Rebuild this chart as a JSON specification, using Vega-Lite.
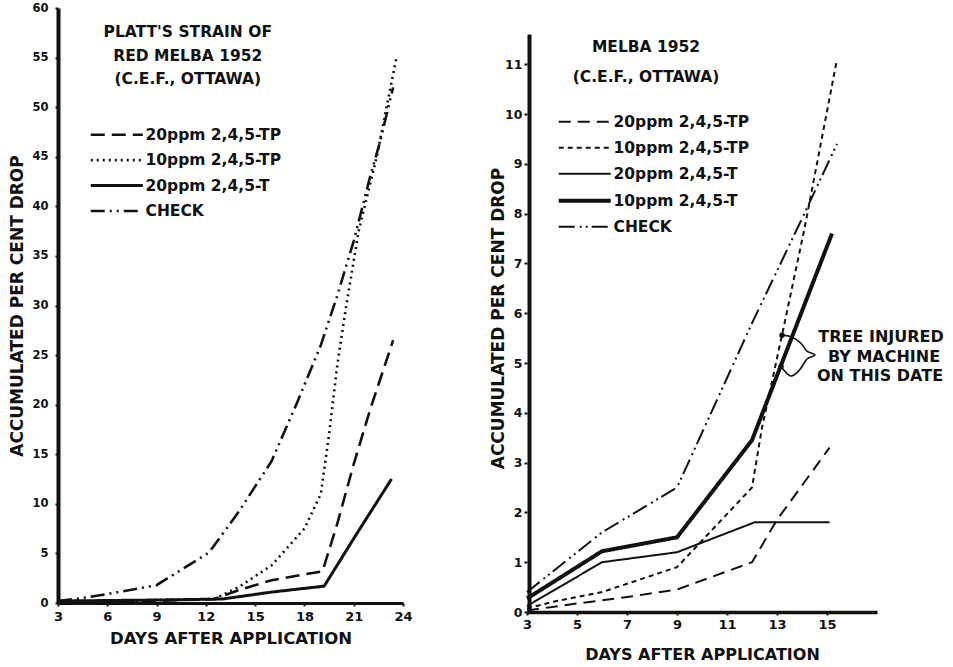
{
  "$schema": "https://vega.github.io/schema/vega-lite/v6.json",
  "background": "white",
  "padding": {"left": 8, "top": 2, "right": 0, "bottom": 0},
  "config": {
    "view": {"stroke": null},
    "font": "DejaVu Sans",
    "axis": {"domainColor": "#111", "tickColor": "#111", "labelColor": "#111", "titleColor": "#111", "labelFont": "DejaVu Sans", "labelFontWeight": "bold", "titleFont": "DejaVu Sans", "titleFontWeight": "bold", "titleFontSize": 16, "grid": false, "tickWidth": 2, "tickSize": 3, "labelFlush": false}
  },
  "datasets": {
    "left": [
      {"series": "CHECK", "day": 3, "pct": 0.2}, {"series": "CHECK", "day": 4.5, "pct": 0.5}, {"series": "CHECK", "day": 6, "pct": 0.9}, {"series": "CHECK", "day": 9, "pct": 1.8}, {"series": "CHECK", "day": 12.2, "pct": 5.1}, {"series": "CHECK", "day": 14, "pct": 9.2}, {"series": "CHECK", "day": 16, "pct": 14.3}, {"series": "CHECK", "day": 17.5, "pct": 20}, {"series": "CHECK", "day": 19, "pct": 26}, {"series": "CHECK", "day": 20, "pct": 31}, {"series": "CHECK", "day": 21, "pct": 36.5}, {"series": "CHECK", "day": 22, "pct": 43}, {"series": "CHECK", "day": 22.6, "pct": 46.5}, {"series": "CHECK", "day": 23.4, "pct": 52},
      {"series": "10ppm 2,4,5-TP", "day": 3, "pct": 0.2}, {"series": "10ppm 2,4,5-TP", "day": 6, "pct": 0.2}, {"series": "10ppm 2,4,5-TP", "day": 9, "pct": 0.3}, {"series": "10ppm 2,4,5-TP", "day": 12.5, "pct": 0.4}, {"series": "10ppm 2,4,5-TP", "day": 14, "pct": 1.6}, {"series": "10ppm 2,4,5-TP", "day": 16, "pct": 3.8}, {"series": "10ppm 2,4,5-TP", "day": 18, "pct": 7.5}, {"series": "10ppm 2,4,5-TP", "day": 19, "pct": 11}, {"series": "10ppm 2,4,5-TP", "day": 19.5, "pct": 17}, {"series": "10ppm 2,4,5-TP", "day": 20, "pct": 24}, {"series": "10ppm 2,4,5-TP", "day": 20.5, "pct": 29.5}, {"series": "10ppm 2,4,5-TP", "day": 21.3, "pct": 37.5}, {"series": "10ppm 2,4,5-TP", "day": 22.4, "pct": 45}, {"series": "10ppm 2,4,5-TP", "day": 23.6, "pct": 55},
      {"series": "20ppm 2,4,5-TP", "day": 3, "pct": 0.1}, {"series": "20ppm 2,4,5-TP", "day": 9, "pct": 0.2}, {"series": "20ppm 2,4,5-TP", "day": 12.5, "pct": 0.4}, {"series": "20ppm 2,4,5-TP", "day": 14, "pct": 1.3}, {"series": "20ppm 2,4,5-TP", "day": 16, "pct": 2.3}, {"series": "20ppm 2,4,5-TP", "day": 19.1, "pct": 3.2}, {"series": "20ppm 2,4,5-TP", "day": 20, "pct": 8}, {"series": "20ppm 2,4,5-TP", "day": 21, "pct": 14}, {"series": "20ppm 2,4,5-TP", "day": 22, "pct": 19.5}, {"series": "20ppm 2,4,5-TP", "day": 23.4, "pct": 26.5},
      {"series": "20ppm 2,4,5-T", "day": 3, "pct": 0.2}, {"series": "20ppm 2,4,5-T", "day": 9, "pct": 0.3}, {"series": "20ppm 2,4,5-T", "day": 13, "pct": 0.4}, {"series": "20ppm 2,4,5-T", "day": 16, "pct": 1.1}, {"series": "20ppm 2,4,5-T", "day": 19.2, "pct": 1.7}, {"series": "20ppm 2,4,5-T", "day": 21, "pct": 6.5}, {"series": "20ppm 2,4,5-T", "day": 23.3, "pct": 12.5}
    ],
    "leftText": [
      {"label": "PLATT'S STRAIN OF", "day": 10.9, "pct": 57.6},
      {"label": "RED MELBA 1952", "day": 10.9, "pct": 55.2},
      {"label": "(C.E.F., OTTAWA)", "day": 10.9, "pct": 52.8}
    ],
    "right": [
      {"series": "CHECK", "day": 3, "pct": 0.4}, {"series": "CHECK", "day": 6, "pct": 1.6}, {"series": "CHECK", "day": 9, "pct": 2.5}, {"series": "CHECK", "day": 12, "pct": 5.8}, {"series": "CHECK", "day": 14, "pct": 7.9}, {"series": "CHECK", "day": 15.4, "pct": 9.4},
      {"series": "10ppm 2,4,5-TP", "day": 3, "pct": 0.07}, {"series": "10ppm 2,4,5-TP", "day": 4, "pct": 0.2}, {"series": "10ppm 2,4,5-TP", "day": 6, "pct": 0.4}, {"series": "10ppm 2,4,5-TP", "day": 9, "pct": 0.9}, {"series": "10ppm 2,4,5-TP", "day": 12, "pct": 2.5}, {"series": "10ppm 2,4,5-TP", "day": 12.4, "pct": 3.7}, {"series": "10ppm 2,4,5-TP", "day": 13.2, "pct": 5.56}, {"series": "10ppm 2,4,5-TP", "day": 14.1, "pct": 7.7}, {"series": "10ppm 2,4,5-TP", "day": 15.4, "pct": 11.1},
      {"series": "20ppm 2,4,5-TP", "day": 3, "pct": 0.03}, {"series": "20ppm 2,4,5-TP", "day": 5, "pct": 0.17}, {"series": "20ppm 2,4,5-TP", "day": 7, "pct": 0.3}, {"series": "20ppm 2,4,5-TP", "day": 9, "pct": 0.45}, {"series": "20ppm 2,4,5-TP", "day": 12, "pct": 1.0}, {"series": "20ppm 2,4,5-TP", "day": 13, "pct": 1.85}, {"series": "20ppm 2,4,5-TP", "day": 15.1, "pct": 3.3},
      {"series": "20ppm 2,4,5-T", "day": 3, "pct": 0.12}, {"series": "20ppm 2,4,5-T", "day": 6, "pct": 1.0}, {"series": "20ppm 2,4,5-T", "day": 9, "pct": 1.2}, {"series": "20ppm 2,4,5-T", "day": 12.1, "pct": 1.8}, {"series": "20ppm 2,4,5-T", "day": 15.1, "pct": 1.8},
      {"series": "10ppm 2,4,5-T", "day": 3, "pct": 0.27}, {"series": "10ppm 2,4,5-T", "day": 6, "pct": 1.22}, {"series": "10ppm 2,4,5-T", "day": 9, "pct": 1.5}, {"series": "10ppm 2,4,5-T", "day": 12, "pct": 3.45}, {"series": "10ppm 2,4,5-T", "day": 15.2, "pct": 7.6}
    ],
    "rightText": [
      {"label": "MELBA 1952", "day": 7.76, "pct": 11.35, "size": "title"},
      {"label": "(C.E.F., OTTAWA)", "day": 7.76, "pct": 10.74, "size": "title"},
      {"label": "TREE INJURED", "day": 17.16, "pct": 5.52, "size": "note"},
      {"label": "BY MACHINE", "day": 17.28, "pct": 5.12, "size": "note"},
      {"label": "ON THIS DATE", "day": 17.12, "pct": 4.74, "size": "note"}
    ],
    "brace": [
      {"k": 1, "day": 13.2, "pct": 5.56}, {"k": 2, "day": 13.6, "pct": 5.52}, {"k": 3, "day": 13.95, "pct": 5.4}, {"k": 4, "day": 14.2, "pct": 5.24}, {"k": 5, "day": 14.52, "pct": 5.16},
      {"k": 6, "day": 14.2, "pct": 5.08}, {"k": 7, "day": 13.9, "pct": 4.86}, {"k": 8, "day": 13.55, "pct": 4.74}, {"k": 9, "day": 13.16, "pct": 4.93}
    ],
    "markers": [
      {"day": 13.2, "pct": 5.56},
      {"day": 13.16, "pct": 4.93}
    ]
  },
  "spacing": 76,
  "resolve": {
    "scale": {"strokeDash": "independent", "strokeWidth": "independent", "x": "independent", "y": "independent"},
    "legend": {"strokeDash": "independent", "strokeWidth": "independent"}
  },
  "hconcat": [
    {
      "width": 345,
      "height": 595,
      "layer": [
        {
          "data": {"name": "left"},
          "mark": {"type": "line", "color": "#111", "strokeCap": "butt"},
          "encoding": {
            "x": {"field": "day", "type": "quantitative", "scale": {"domain": [3, 24], "nice": false, "zero": false}, "axis": {"values": [3, 6, 9, 12, 15, 18, 21, 24], "title": "DAYS AFTER APPLICATION", "titleFontSize": 16.5, "domainWidth": 3, "labelFontSize": 13, "labelPadding": 4, "titlePadding": 7}},
            "y": {"field": "pct", "type": "quantitative", "scale": {"domain": [0, 60], "nice": false}, "axis": {"values": [0, 5, 10, 15, 20, 25, 30, 35, 40, 45, 50, 55, 60], "title": "ACCUMULATED PER CENT DROP", "titleFontSize": 17, "domainWidth": 4, "labelFontSize": 11.5, "labelPadding": 7, "titlePadding": 5}},
            "strokeDash": {"field": "series", "type": "nominal", "scale": {"domain": ["20ppm 2,4,5-TP", "10ppm 2,4,5-TP", "20ppm 2,4,5-T", "CHECK"], "range": [[14, 7], [2, 4], [1, 0], [14, 5, 2, 5, 2, 5]]}, "legend": {"orient": "none", "legendX": 51, "legendY": 119, "title": null, "symbolType": "M-5.2,0H5.2", "symbolSize": 100, "symbolStrokeColor": "#111", "labelFont": "DejaVu Sans", "labelFontWeight": "bold", "labelFontSize": 15.5, "labelColor": "#111", "labelOffset": 21, "rowPadding": 8.4}},
            "strokeWidth": {"field": "series", "type": "nominal", "scale": {"type": "ordinal", "domain": ["20ppm 2,4,5-TP", "10ppm 2,4,5-TP", "20ppm 2,4,5-T", "CHECK"], "range": [2.6, 2.6, 3, 2.6]}, "legend": {"orient": "none", "legendX": 51, "legendY": 119, "title": null, "symbolType": "M-5.2,0H5.2", "symbolSize": 100, "symbolStrokeColor": "#111", "labelFont": "DejaVu Sans", "labelFontWeight": "bold", "labelFontSize": 15.5, "labelColor": "#111", "labelOffset": 21, "rowPadding": 8.4}}
          }
        },
        {
          "data": {"name": "leftText"},
          "mark": {"type": "text", "font": "DejaVu Sans", "fontWeight": "bold", "fontSize": 15.5, "color": "#111", "align": "center", "baseline": "middle"},
          "encoding": {
            "x": {"field": "day", "type": "quantitative"},
            "y": {"field": "pct", "type": "quantitative"},
            "text": {"field": "label"}
          }
        }
      ]
    },
    {
      "width": 350,
      "height": 604,
      "layer": [
        {
          "data": {"name": "right"},
          "mark": {"type": "line", "color": "#111", "strokeCap": "butt"},
          "encoding": {
            "x": {"field": "day", "type": "quantitative", "scale": {"domain": [3, 17], "nice": false, "zero": false}, "axis": {"values": [3, 5, 7, 9, 11, 13, 15], "title": "DAYS AFTER APPLICATION", "domainWidth": 3.5, "labelFontSize": 13, "labelPadding": 3, "titlePadding": 15}},
            "y": {"field": "pct", "type": "quantitative", "scale": {"domain": [0, 12.13], "nice": false}, "axis": {"values": [0, 1, 2, 3, 4, 5, 6, 7, 8, 9, 10, 11], "title": "ACCUMULATED PER CENT DROP", "titleFontSize": 17, "domain": false, "labelFontSize": 12.5, "labelPadding": 2, "titlePadding": -3, "titleY": 310}},
            "strokeDash": {"field": "series", "type": "nominal", "scale": {"domain": ["20ppm 2,4,5-TP", "10ppm 2,4,5-TP", "20ppm 2,4,5-T", "10ppm 2,4,5-T", "CHECK"], "range": [[12, 7], [5, 4], [1, 0], [1, 0], [16, 5, 2, 4, 2, 4]]}, "legend": {"orient": "none", "legendX": 50, "legendY": 106, "title": null, "symbolType": "M-5.2,0H5.2", "symbolSize": 100, "symbolStrokeColor": "#111", "labelFont": "DejaVu Sans", "labelFontWeight": "bold", "labelFontSize": 15.5, "labelColor": "#111", "labelOffset": 21, "rowPadding": 9}},
            "strokeWidth": {"field": "series", "type": "nominal", "scale": {"type": "ordinal", "domain": ["20ppm 2,4,5-TP", "10ppm 2,4,5-TP", "20ppm 2,4,5-T", "10ppm 2,4,5-T", "CHECK"], "range": [2, 2, 2, 4, 2]}, "legend": {"orient": "none", "legendX": 50, "legendY": 106, "title": null, "symbolType": "M-5.2,0H5.2", "symbolSize": 100, "symbolStrokeColor": "#111", "labelFont": "DejaVu Sans", "labelFontWeight": "bold", "labelFontSize": 15.5, "labelColor": "#111", "labelOffset": 21, "rowPadding": 9}}
          }
        },
        {
          "data": {"values": [{}]},
          "mark": {"type": "rule", "color": "#111", "strokeWidth": 4},
          "encoding": {
            "x": {"datum": 3.1},
            "y": {"datum": 0},
            "y2": {"datum": 11.6}
          }
        },
        {
          "data": {"name": "brace"},
          "mark": {"type": "line", "color": "#111", "strokeWidth": 1.6, "interpolate": "cardinal"},
          "encoding": {
            "x": {"field": "day", "type": "quantitative"},
            "y": {"field": "pct", "type": "quantitative"},
            "order": {"field": "k", "type": "quantitative"}
          }
        },
        {
          "data": {"name": "markers"},
          "mark": {"type": "point", "filled": true, "color": "#111", "size": 30, "opacity": 1},
          "encoding": {
            "x": {"field": "day", "type": "quantitative"},
            "y": {"field": "pct", "type": "quantitative"}
          }
        },
        {
          "data": {"name": "rightText"},
          "mark": {"type": "text", "font": "DejaVu Sans", "fontWeight": "bold", "color": "#111", "align": "center", "baseline": "middle"},
          "encoding": {
            "x": {"field": "day", "type": "quantitative"},
            "y": {"field": "pct", "type": "quantitative"},
            "text": {"field": "label"},
            "size": {"field": "size", "type": "nominal", "scale": {"type": "ordinal", "domain": ["title", "note"], "range": [15.5, 16]}, "legend": null}
          }
        }
      ]
    }
  ]
}
